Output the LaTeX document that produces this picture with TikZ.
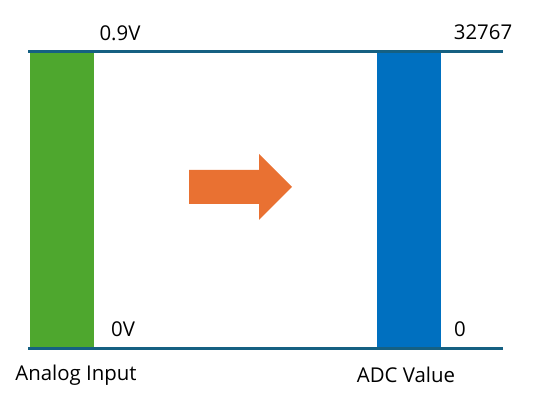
\documentclass[tikz,border=0pt]{standalone}
\usepackage{fontspec}
\setmainfont{Open Sans}
\usetikzlibrary{positioning}
\definecolor{linecol}{HTML}{156082}
\definecolor{bargreen}{HTML}{4EA72E}
\definecolor{barblue}{HTML}{0070C0}
\definecolor{arroworange}{HTML}{E97132}
\tikzset{
  bar/.style={draw=none, inner sep=0pt, minimum width=48pt, minimum height=222pt},
  lbl/.style={font=\fontsize{15.3}{18}\selectfont, inner sep=0pt}
}
\begin{document}
\begin{tikzpicture}[x=0.75pt, y=-0.75pt]
  \useasboundingbox (0,0) rectangle (537,399);
  % bars
  \node[bar, fill=bargreen, anchor=north west] (analog) at (30,52) {};
  \node[bar, fill=barblue, anchor=north west] (adc) at (377,52) {};
  % top and bottom lines
  \coordinate (tl) at (28,51.5);
  \coordinate (tr) at (503,51.5);
  \coordinate (bl) at (28,348.5);
  \coordinate (br) at (503,348.5);
  \draw[linecol, line width=1.6pt] (tl) -- (tr);
  \draw[linecol, line width=1.6pt] (bl) -- (br);
  % labels
  \node[lbl] (vmax) at (120,33) {0.9V};
  \node[lbl] (vmin) at (123,329) {0V};
  \node[lbl] (cmax) at (483,32) {32767};
  \node[lbl] (cmin) at (460,329) {0};
  \node[lbl] (in) at (76,375) {Analog Input};
  \node[lbl] (out) at (406,375) {ADC Value};
  % arrow
  \fill[arroworange] (189,170) -- (259,170) -- (259,154) -- (292,187)
    -- (259,220) -- (259,204) -- (189,204) -- cycle;
\end{tikzpicture}
\end{document}
